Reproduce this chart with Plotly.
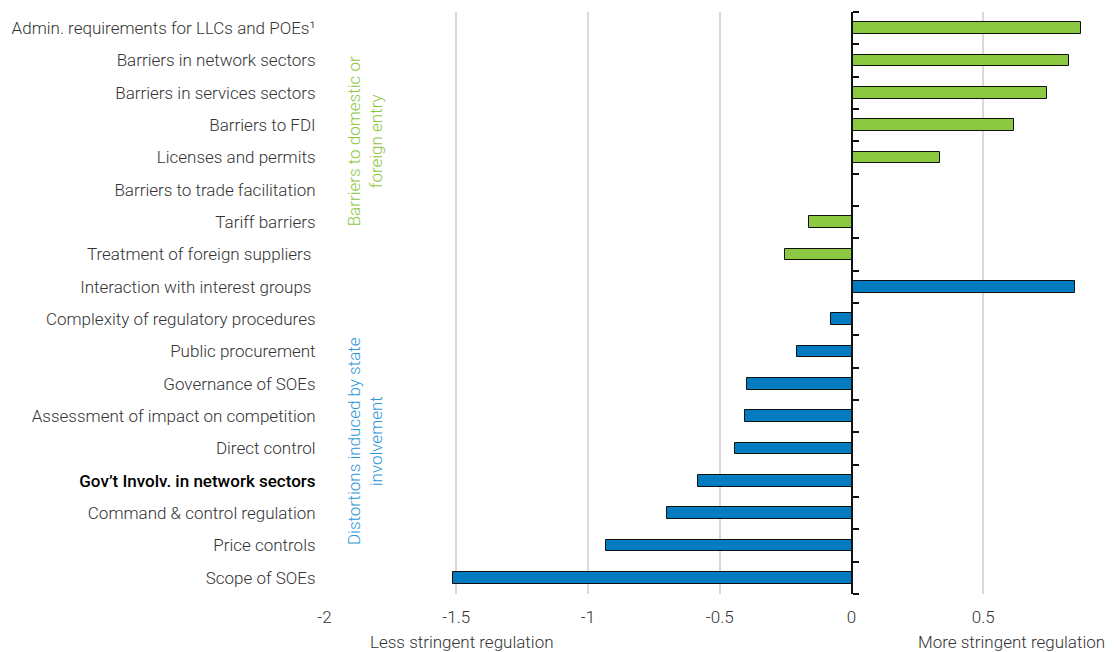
import plotly.graph_objects as go

categories = [
    "Admin. requirements for LLCs and POEs¹",
    "Barriers in network sectors",
    "Barriers in services sectors",
    "Barriers to FDI",
    "Licenses and permits",
    "Barriers to trade facilitation",
    "Tariff barriers",
    "Treatment of foreign suppliers ",
    "Interaction with interest groups ",
    "Complexity of regulatory procedures",
    "Public procurement",
    "Governance of SOEs",
    "Assessment of impact on competition",
    "Direct control",
    "Gov’t Involv. in network sectors",
    "Command & control regulation",
    "Price controls",
    "Scope of SOEs",
]
values = [0.871, 0.824, 0.742, 0.617, 0.335, 0.004, -0.160, -0.252,
          0.850, -0.078, -0.206, -0.395, -0.403, -0.443, -0.582, -0.702, -0.930, -1.513]
groups = ["entry"] * 8 + ["state"] * 10
group_labels = {"entry": "Barriers to domestic or<br>foreign entry",
                "state": "Distortions induced by state<br>involvement"}
highlight = "Gov’t Involv. in network sectors"
x_ticks = [-2, -1.5, -1, -0.5, 0, 0.5, 1]
x_ticktext = ["-2", "-1.5", "-1", "-0.5", "0", "0.5", "1"]

GREEN = "#8CC841"
BLUE = "#037BC1"
FONT = "Roboto, Liberation Sans, Arial, sans-serif"
FS = 17
TXT = "#333333"

n = len(categories)
ticktext = [("<span style='color:#000000;font-weight:500'>" + c + "</span>" if c == highlight else c)
            for c in categories]

fig = go.Figure()
for g, col in (("entry", GREEN), ("state", BLUE)):
    idx = [i for i in range(n) if groups[i] == g]
    fig.add_trace(go.Bar(
        x=[values[i] for i in idx], y=idx, orientation="h",
        marker=dict(color=col, line=dict(color="#111111", width=1)),
        width=0.36, showlegend=False, hoverinfo="skip"))

# invisible trace to carry the zero-line axis with boundary ticks
fig.add_trace(go.Scatter(x=[0], y=[0], yaxis="y2", mode="markers",
                         marker=dict(opacity=0), showlegend=False, hoverinfo="skip"))

x0, x1 = -2.002, 1
frac0 = (0 - x0) / (x1 - x0)

# page body adds an 8px offset; size the figure so the plot lands where the reference has it
fig.update_layout(
    width=1107, height=644,
    margin=dict(l=316, r=0, t=4, b=58),
    plot_bgcolor="white", paper_bgcolor="white",
    font=dict(family=FONT, size=FS, color=TXT, weight=300),
    bargap=0,
    xaxis=dict(range=[x0, x1], tickvals=x_ticks, ticktext=x_ticktext,
               showgrid=True, gridcolor="#d9d9d9", gridwidth=2, zeroline=False,
               ticks="outside", ticklen=8, tickcolor="rgba(0,0,0,0)",
               showline=False, automargin=False,
               tickfont=dict(size=FS, color=TXT, weight=300)),
    yaxis=dict(range=[n - 0.5, -0.5], tickvals=list(range(n)), ticktext=ticktext,
               showgrid=False, zeroline=False, showline=False, automargin=False,
               ticks="outside", ticklen=4, tickcolor="rgba(0,0,0,0)",
               tickfont=dict(size=FS, color=TXT, weight=300)),
    yaxis2=dict(range=[n - 0.5, -0.5], overlaying="y", anchor="free",
                position=frac0, side="right", automargin=False,
                tickvals=[i - 0.5 for i in range(n + 1)], showticklabels=False,
                ticks="outside", ticklen=6, tickwidth=2, tickcolor="#111111",
                showline=True, linecolor="#111111", linewidth=2,
                showgrid=False, zeroline=False),
)

ann_font = dict(size=FS, color=TXT, weight=300)
fig.add_annotation(x=-1.478, y=-0.082, xref="x", yref="paper",
                   text="Less stringent regulation", showarrow=False,
                   xanchor="center", yanchor="middle", font=ann_font)
fig.add_annotation(x=0.99, y=-0.082, xref="paper", yref="paper",
                   text="More stringent regulation", showarrow=False,
                   xanchor="right", yanchor="middle", font=ann_font)
fig.add_annotation(x=-1.846, y=0.778, xref="x", yref="paper",
                   text=group_labels["entry"], showarrow=False, textangle=-90,
                   xanchor="center", yanchor="middle",
                   font=dict(size=FS, color="#8DC63F", weight=300))
fig.add_annotation(x=-1.846, y=0.263, xref="x", yref="paper",
                   text=group_labels["state"], showarrow=False, textangle=-90,
                   xanchor="center", yanchor="middle",
                   font=dict(size=FS, color="#2E97D8", weight=300))

fig.write_html("out.html")
